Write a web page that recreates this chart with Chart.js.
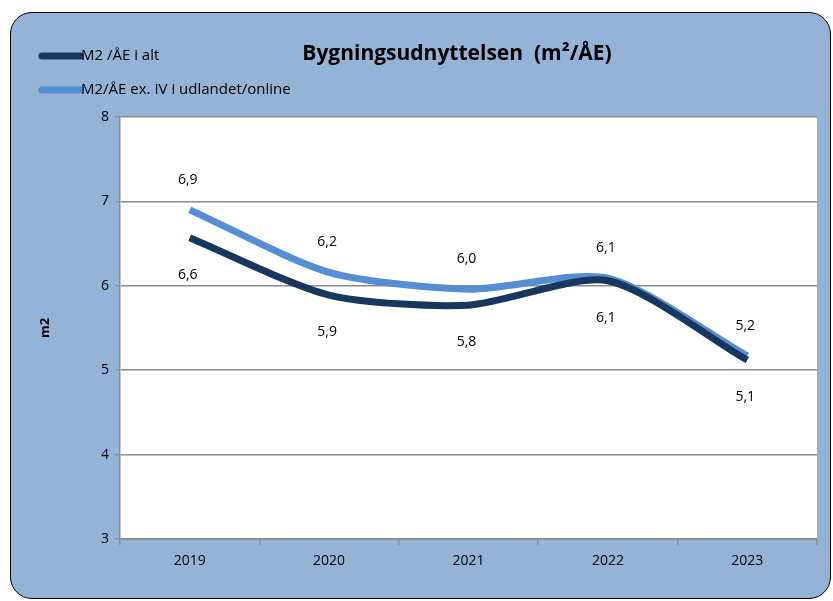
<!DOCTYPE html>
<html>
<head>
<meta charset="utf-8">
<script src="https://cdn.jsdelivr.net/npm/chart.js@4.4.0/dist/chart.umd.min.js"></script>
<style>
  body { margin: 0; background: #fff; }
  #frame { position: absolute; left: 10px; top: 12px; width: 819px; height: 585px;
           background: #95b3d7; border: 1.5px solid #000; border-radius: 22px; }
  #c { position: absolute; left: 0; top: 0; }
</style>
</head>
<body>
<div id="frame"></div>
<canvas id="c" width="833" height="601"></canvas>
<script>
var years = ['2019', '2020', '2021', '2022', '2023'];
var m2Total = [6.57, 5.89, 5.77, 6.06, 5.12];
var m2ExAbroad = [6.90, 6.16, 5.96, 6.09, 5.17];
var seriesNames = ['M2 /ÅE i alt', 'M2/ÅE ex. IV i udlandet/online'];
var chartTitle = 'Bygningsudnyttelsen  (m²/ÅE)';

var fontFam = '"Open Sans", Lato, sans-serif';

// white plot area
var plotBg = {
    id: 'plotBg',
    beforeDraw: function(chart) {
        var a = chart.chartArea, ctx = chart.ctx;
        ctx.save();
        ctx.fillStyle = '#fff';
        ctx.fillRect(a.left, a.top, a.right - a.left, a.bottom - a.top);
        ctx.restore();
    }
};

// title + vertical legend at top left
var header = {
    id: 'header',
    afterDraw: function(chart) {
        var ctx = chart.ctx;
        ctx.save();
        ctx.fillStyle = '#000';
        ctx.font = 'bold 21px ' + fontFam;
        ctx.textAlign = 'center';
        ctx.textBaseline = 'middle';
        ctx.fillText(chartTitle, 457, 54);
        ctx.font = '15px ' + fontFam;
        ctx.textAlign = 'left';
        chart.data.datasets.forEach(function(ds, i) {
            var y = 56 + i * 34;
            ctx.strokeStyle = ds.borderColor;
            ctx.lineWidth = 7;
            ctx.lineCap = 'round';
            ctx.beginPath();
            ctx.moveTo(42, y);
            ctx.lineTo(80, y);
            ctx.stroke();
            ctx.fillText(ds.label, 81, y);
        });
        ctx.restore();
    }
};

// value labels: light series above, dark series below
var valueLabels = {
    id: 'valueLabels',
    afterDatasetsDraw: function(chart) {
        var ctx = chart.ctx;
        ctx.save();
        ctx.fillStyle = '#000';
        ctx.font = '14px ' + fontFam;
        ctx.textAlign = 'center';
        ctx.textBaseline = 'middle';
        chart.data.datasets.forEach(function(ds, i) {
            var meta = chart.getDatasetMeta(i);
            meta.data.forEach(function(pt, j) {
                var txt = ds.data[j].toFixed(1).replace('.', ',');
                var dy = ds.labelBelow ? 37 : -30;
                ctx.fillText(txt, pt.x - 2, pt.y + dy);
            });
        });
        ctx.restore();
    }
};

new Chart(document.getElementById('c'), {
    type: 'line',
    data: {
        labels: years,
        datasets: [{
            label: seriesNames[0],
            data: m2Total,
            borderColor: '#17375e',
            borderWidth: 7,
            tension: 0.25,
            pointRadius: 0,
            labelBelow: true
        }, {
            label: seriesNames[1],
            data: m2ExAbroad,
            borderColor: '#558ed5',
            borderWidth: 7,
            tension: 0.25,
            pointRadius: 0,
            labelBelow: false
        }]
    },
    options: {
        responsive: false,
        animation: false,
        layout: { padding: { top: 117, right: 16, bottom: 20, left: 37 } },
        plugins: { legend: { display: false }, tooltip: { enabled: false } },
        scales: {
            x: {
                offset: true,
                grid: { display: true, drawOnChartArea: false, offset: true, color: '#8c8c8c', tickLength: 6, lineWidth: 1.5 },
                border: { color: '#8c8c8c', width: 1.5 },
                ticks: { color: '#000', font: { size: 14, family: fontFam }, padding: 8 },
                afterFit: function(s) { s.height = 42; }
            },
            y: {
                min: 3, max: 8,
                ticks: { stepSize: 1, color: '#000', font: { size: 14, family: fontFam }, padding: 6 },
                grid: { color: '#8c8c8c', lineWidth: 1.5, tickLength: 5 },
                border: { color: '#8c8c8c', width: 1.5 },
                title: { display: true, text: 'm2', color: '#000', font: { size: 13, weight: 'bold', family: fontFam }, padding: 0 },
                afterFit: function(s) { s.width = 83; }
            }
        }
    },
    plugins: [plotBg, header, valueLabels]
});
</script>
</body>
</html>
